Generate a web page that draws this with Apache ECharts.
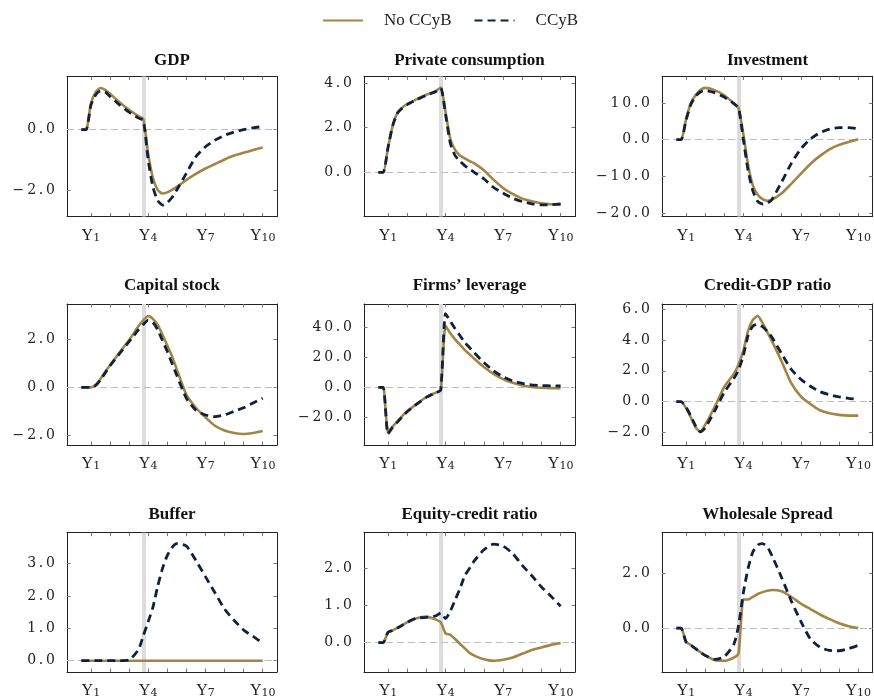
<!DOCTYPE html>
<html><head><meta charset="utf-8">
<script src="https://cdn.jsdelivr.net/npm/echarts@6/dist/echarts.min.js"></script>
<style>html,body{margin:0;padding:0;background:#fff}#c{width:874px;height:699px}</style>
</head><body><div id="c"></div>
<script>
// ---- data (x in years, quarterly/half-yearly grid) ----
const years = [0.5,0.75,1,1.25,1.5,1.75,2,2.5,3,3.5,3.75,4,4.25,4.5,4.75,5,5.25,5.5,6,6.5,7,7.5,8,8.5,9,9.5,10];
const tickYears = [1,2,3,4,5,6,7,8,9,10];
const labelYears = [1,4,7,10];
const shockYear = 3.75;
const seriesNames = ['No CCyB','CCyB'];
const titles = ['GDP','Private consumption','Investment','Capital stock','Firms\u2019 leverage','Credit-GDP ratio','Buffer','Equity-credit ratio','Wholesale Spread'];

const gdpNo    = [0,0,0.86,1.24,1.38,1.32,1.19,0.91,0.66,0.44,0.35,-0.8,-1.6,-2.0,-2.12,-2.08,-2.0,-1.9,-1.67,-1.47,-1.29,-1.14,-0.99,-0.86,-0.77,-0.68,-0.59];
const gdpCCyB  = [0,0,0.8,1.15,1.28,1.25,1.1,0.82,0.58,0.38,0.3,-1.0,-1.9,-2.35,-2.5,-2.42,-2.25,-2.0,-1.45,-0.9,-0.57,-0.35,-0.19,-0.08,0.0,0.06,0.1];
const consNo   = [0,0,1.1,2.1,2.68,2.9,3.05,3.28,3.47,3.65,3.8,2.7,1.5,1.0,0.75,0.62,0.5,0.4,0.09,-0.33,-0.7,-0.97,-1.18,-1.3,-1.39,-1.43,-1.44];
const consCCyB = [0,0,1.1,2.1,2.65,2.88,3.03,3.25,3.45,3.62,3.78,2.6,1.3,0.75,0.5,0.3,0.15,0.0,-0.29,-0.68,-0.93,-1.16,-1.31,-1.41,-1.46,-1.45,-1.42];
const invNo    = [0,0,5.4,9.9,12.1,13.5,14.1,13.5,12.1,9.9,8.6,1.5,-7,-12.5,-15,-16.2,-16.6,-16.3,-14.6,-12,-9.3,-6.6,-4.4,-2.6,-1.4,-0.6,0.1];
const invCCyB  = [0,0,5.2,9.5,11.8,13.0,13.4,12.8,11.6,9.8,8.6,0,-8.5,-14,-16.8,-17.5,-17.3,-16.2,-11.5,-6.5,-2.5,0.2,1.9,2.9,3.3,3.3,3.0];
const capNo    = [0,0,0,0.1,0.35,0.65,0.92,1.45,1.97,2.55,2.8,2.97,2.85,2.6,2.2,1.75,1.3,0.75,-0.3,-0.85,-1.25,-1.6,-1.8,-1.9,-1.94,-1.9,-1.82];
const capCCyB  = [0,0,0,0.08,0.3,0.6,0.9,1.4,1.9,2.4,2.62,2.8,2.7,2.4,1.95,1.5,1.0,0.5,-0.45,-0.95,-1.15,-1.22,-1.15,-1.0,-0.85,-0.65,-0.45];
const levNo    = [0,0,-30,-26,-22.5,-19,-16,-11,-6.5,-3.5,-1.8,41,36,32,28.5,25,22,19,13.5,9,5.5,3,1.2,0.2,-0.3,-0.5,-0.5];
const levCCyB  = [0,0,-31,-26.5,-23,-19.5,-16.3,-11.2,-6.7,-3.6,-1.9,49,44,39,34.5,30,26.5,23,16.5,11,7,4.3,2.6,1.7,1.2,1.0,0.9];
const credNo   = [0,0,-0.4,-1.0,-1.65,-1.95,-1.5,-0.35,0.95,1.8,2.4,3.3,4.6,5.3,5.55,5.1,4.5,3.9,2.6,1.2,0.35,-0.15,-0.55,-0.75,-0.85,-0.9,-0.9];
const credCCyB = [0,0,-0.35,-0.9,-1.55,-1.95,-1.7,-0.6,0.6,1.5,2.05,3.0,4.3,4.9,5.0,4.85,4.55,4.15,3.1,2.1,1.45,1.0,0.65,0.45,0.32,0.22,0.15];
const bufNo    = [0,0,0,0,0,0,0,0,0,0,0,0,0,0,0,0,0,0,0,0,0,0,0,0,0,0,0];
const bufCCyB  = [0,0,0,0,0,0,0,0,0.02,0.35,0.78,1.2,1.65,2.3,2.85,3.25,3.5,3.62,3.55,3.1,2.6,2.1,1.6,1.25,0.95,0.75,0.55];
const eqNo     = [0,0,0.28,0.33,0.4,0.47,0.55,0.66,0.7,0.62,0.55,0.25,0.21,0.1,-0.03,-0.15,-0.27,-0.35,-0.45,-0.49,-0.46,-0.4,-0.3,-0.2,-0.13,-0.06,-0.01];
const eqCCyB   = [0,0,0.28,0.33,0.4,0.47,0.55,0.66,0.68,0.72,0.8,0.65,0.85,1.15,1.45,1.8,2.0,2.2,2.5,2.65,2.6,2.4,2.08,1.8,1.5,1.25,0.98];
const wsNo     = [0,0,-0.5,-0.62,-0.75,-0.88,-1.0,-1.17,-1.2,-1.08,-0.92,1.05,1.05,1.15,1.25,1.32,1.37,1.4,1.35,1.15,0.9,0.7,0.5,0.33,0.18,0.07,0.0];
const wsCCyB   = [0,0,-0.5,-0.62,-0.75,-0.88,-1.0,-1.15,-1.05,-0.6,0.1,1.3,2.2,2.8,3.05,3.1,2.98,2.65,1.85,1.0,0.25,-0.4,-0.7,-0.82,-0.83,-0.75,-0.63];

const yTicks = [[-2,0],[0,2,4],[-20,-10,0,10],[-2,0,2],[-20,0,20,40],[-2,0,2,4,6],[0,1,2,3],[0,1,2],[0,2]];

const noData   = [gdpNo,consNo,invNo,capNo,levNo,credNo,bufNo,eqNo,wsNo];
const ccybData = [gdpCCyB,consCCyB,invCCyB,capCCyB,levCCyB,credCCyB,bufCCyB,eqCCyB,wsCCyB];

// ---- axis ranges & layout ----
const yRange = [[-2.88,1.76],[-1.98,4.29],[-20.9,17.2],[-2.4,3.47],[-38.4,55.5],[-2.8,6.32],[-0.35,3.96],[-0.79,2.96],[-1.61,3.5]];
const xMin = -0.25, xMax = 10.75;
const colLeft = [67,364,662], colWidth = [210,211,211];
const rowTop = [76.5,304,532.7], rowHeight = [140,141,140.6];
const titleY = [61,286,515];

const GOLD = '#A38444', NAVY = '#0D2240';
const serif = 'Liberation Serif';

function fmtY(v){
  let s = Math.abs(v).toFixed(1);
  if (v < 0) s = '\u2212' + s;
  return s.split('').join('\u2009');
}

const grid = [], xAxis = [], yAxis = [], series = [], graphic = [];
for (let i = 0; i < 9; i++) {
  const r = Math.floor(i/3), c = i % 3;
  grid.push({left: colLeft[c], top: rowTop[r], width: colWidth[c], height: rowHeight[r]});
  const axLine = {show:true, onZero:false, lineStyle:{color:'#222', width:1}};
  xAxis.push({
    gridIndex:i, type:'value', position:'bottom', min:xMin, max:xMax,
    axisLine:axLine, splitLine:{show:false},
    axisTick:{show:true, inside:true, length:3.5, customValues:tickYears, lineStyle:{color:'#777'}},
    axisLabel:{show:true, customValues:labelYears, margin:11,
      formatter: v => '{y|Y}{s|' + v + '}',
      rich:{
        y:{fontFamily:serif, fontSize:16, color:'#222', verticalAlign:'top', lineHeight:16},
        s:{fontFamily:'DejaVu Serif', fontSize:11, color:'#222', verticalAlign:'bottom', lineHeight:11, padding:[7,0,0,0]}
      }}
  });
  xAxis.push({
    gridIndex:i, type:'value', position:'top', min:xMin, max:xMax,
    axisLine:axLine, splitLine:{show:false}, axisLabel:{show:false},
    axisTick:{show:true, inside:true, length:3.5, customValues:tickYears, lineStyle:{color:'#777'}}
  });
  yAxis.push({
    gridIndex:i, type:'value', position:'left', min:yRange[i][0], max:yRange[i][1],
    axisLine:axLine, splitLine:{show:false},
    axisTick:{show:true, inside:true, length:3.5, customValues:yTicks[i], lineStyle:{color:'#777'}},
    axisLabel:{show:true, customValues:yTicks[i], margin:12, formatter:fmtY,
      fontFamily:'DejaVu Serif', fontSize:14, color:'#222'}
  });
  yAxis.push({
    gridIndex:i, type:'value', position:'right', min:yRange[i][0], max:yRange[i][1],
    axisLine:axLine, splitLine:{show:false}, axisLabel:{show:false},
    axisTick:{show:true, inside:true, length:3.5, customValues:yTicks[i], lineStyle:{color:'#777'}}
  });
  series.push({
    name:seriesNames[0], type:'line', xAxisIndex:2*i, yAxisIndex:2*i, z:3,
    data: years.map((x,k)=>[x, noData[i][k]]),
    symbol:'none', smooth:0.2, lineStyle:{color:GOLD, width:2.6}, itemStyle:{color:GOLD},
    markLine:{silent:true, symbol:['none','none'], label:{show:false}, z:1, animation:false,
      data:[
        {xAxis:shockYear, lineStyle:{color:'#dcdcdc', width:4, type:'solid'}},
        {yAxis:0, lineStyle:{color:'#bdbdbd', width:1, type:[7,4]}}
      ]}
  });
  series.push({
    name:seriesNames[1], type:'line', xAxisIndex:2*i, yAxisIndex:2*i, z:4,
    data: years.map((x,k)=>[x, ccybData[i][k]]),
    symbol:'none', smooth:0.2, lineStyle:{color:NAVY, width:2.8, type:[8,5]}, itemStyle:{color:NAVY}
  });
  graphic.push({
    type:'text', x: colLeft[c] + colWidth[c]/2, y: titleY[r],
    style:{text:titles[i], textAlign:'center', textVerticalAlign:'middle',
      font:'bold 17px "Liberation Serif"', fill:'#111'}
  });
}

const chart = echarts.init(document.getElementById('c'), null, {renderer:'canvas'});
chart.setOption({
  animation:false,
  backgroundColor:'#fff',
  legend:{
    data:seriesNames, top:7, left:317, itemWidth:40, itemHeight:14, itemGap:22,
    itemStyle:{opacity:0},
    textStyle:{fontFamily:serif, fontSize:17, color:'#222', padding:[0,0,0,16]}
  },
  grid, xAxis, yAxis, series, graphic
});
</script></body></html>
